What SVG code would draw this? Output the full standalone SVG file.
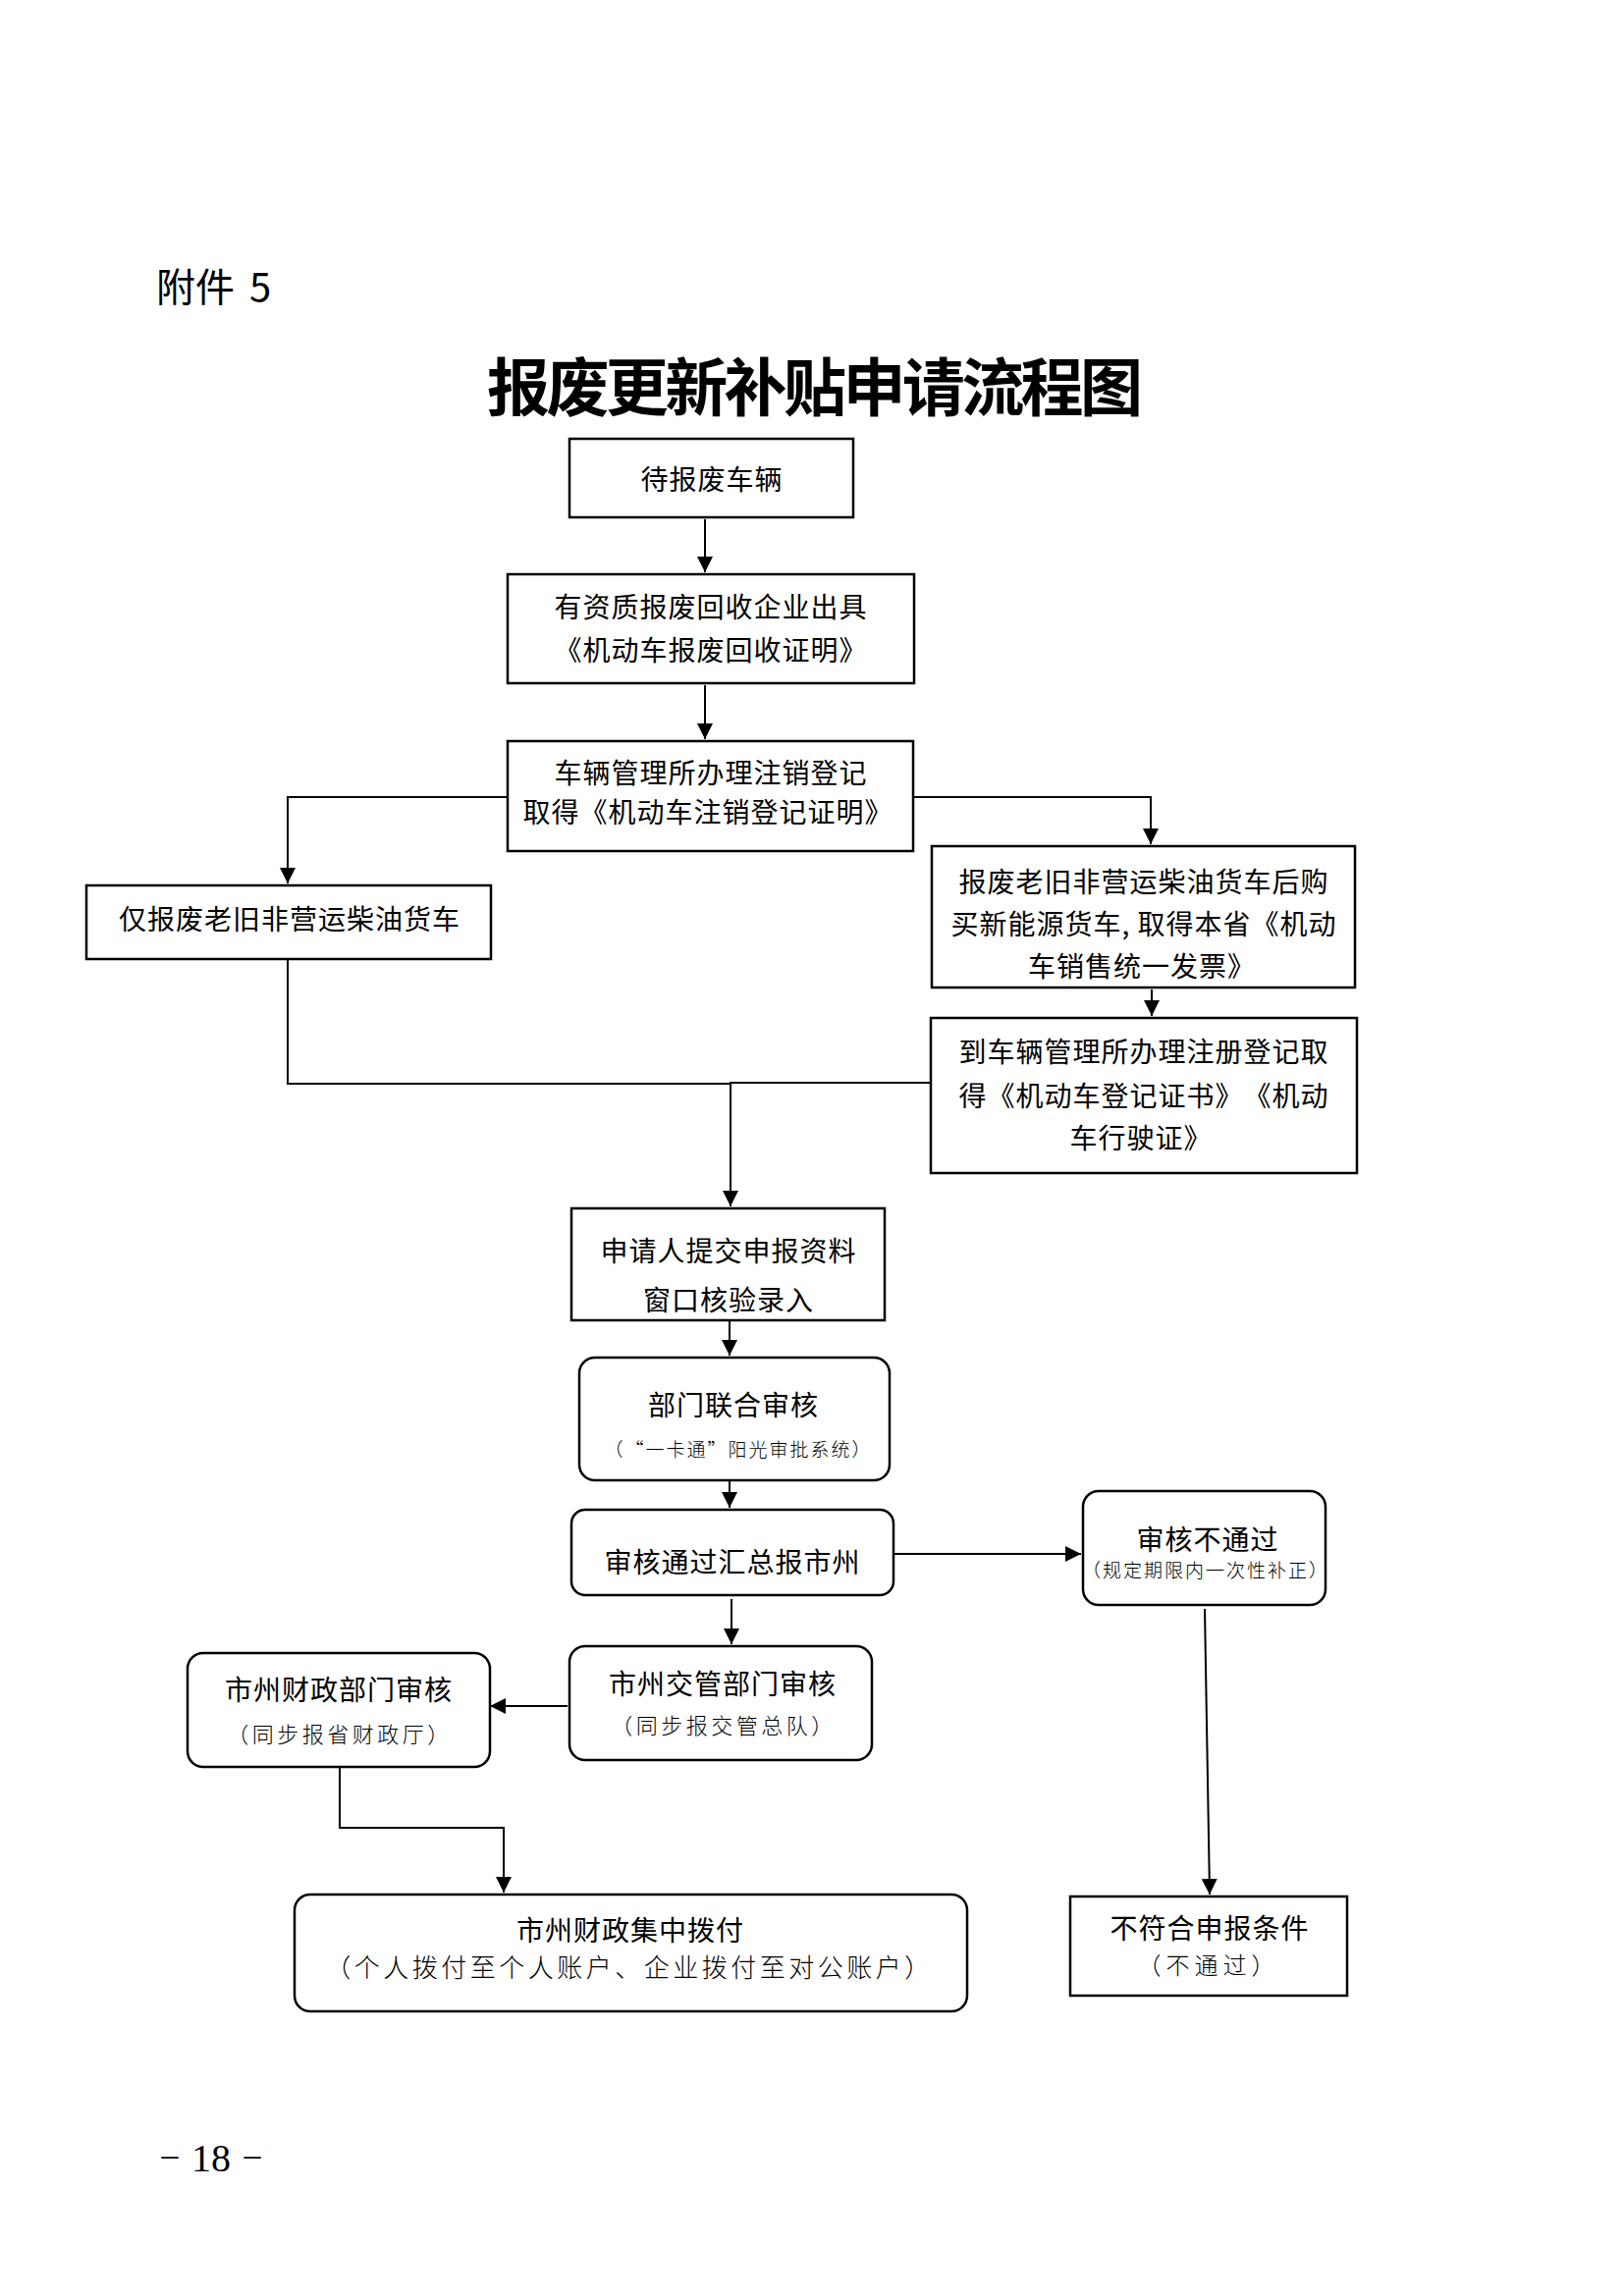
<svg xmlns="http://www.w3.org/2000/svg" width="1654" height="2339" viewBox="0 0 1654 2339">
<style>
  .bg { fill: #ffffff; }
  .box { fill: #ffffff; stroke: #000000; stroke-width: 2.5; }
  .con { fill: none; stroke: #000000; stroke-width: 2; marker-end: url(#arr); }
  .con0 { fill: none; stroke: #000000; stroke-width: 2; }
  .t { font-family: "Noto Sans CJK SC", "Liberation Sans", sans-serif; font-size: 28px; fill: #000000; text-anchor: middle; dominant-baseline: central; letter-spacing: 1px; text-spacing-trim: space-all; }
  .s { font-family: "Noto Sans CJK SC", "Liberation Sans", sans-serif; font-weight: 300; fill: #000000; text-anchor: middle; dominant-baseline: central; text-spacing-trim: space-all; }
</style>
<defs>
  <marker id="arr" viewBox="0 0 16 16" refX="16" refY="8" markerWidth="16" markerHeight="16" markerUnits="userSpaceOnUse" orient="auto">
    <path d="M0,0 L16,8 L0,16 z" fill="#000000"/>
  </marker>
</defs>
<rect class="bg" x="0" y="0" width="1654" height="2339"/>

<g id="header">
  <text x="159" y="290" font-family="Noto Sans CJK SC, Liberation Sans, sans-serif" font-size="40" dominant-baseline="central" word-spacing="6">附件 5</text>
  <text x="496" y="390" font-family="Noto Sans CJK SC, Liberation Sans, sans-serif" font-size="64" font-weight="bold" dominant-baseline="central" textLength="668" lengthAdjust="spacing">报废更新补贴申请流程图</text>
</g>

<g id="connectors">
  <path class="con" d="M718,529 V583"/>
  <path class="con" d="M718,698 V753"/>
  <path class="con" d="M517,812 H293 V900"/>
  <path class="con" d="M930,812 H1172 V860"/>
  <path class="con" d="M1173,1008 V1035"/>
  <path class="con0" d="M293,977 V1104 H744"/>
  <path class="con" d="M948,1103 H744 V1229"/>
  <path class="con" d="M743,1346 V1381"/>
  <path class="con" d="M743,1509 V1536"/>
  <path class="con" d="M745,1629 V1675"/>
  <path class="con" d="M911,1583 H1101"/>
  <path class="con" d="M578,1738 H499"/>
  <path class="con" d="M346,1801 V1862 H513 V1928"/>
  <path class="con" d="M1227,1639 L1232,1930"/>
</g>

<g id="n1">
  <rect class="box" x="580" y="447" width="289" height="80"/>
  <text class="t" x="725" y="487">待报废车辆</text>
</g>

<g id="n2">
  <rect class="box" x="517" y="585" width="414" height="111"/>
  <text class="t" x="724" y="617">有资质报废回收企业出具</text>
  <text class="t" x="724" y="661">《机动车报废回收证明》</text>
</g>

<g id="n3">
  <rect class="box" x="517" y="755" width="413" height="112"/>
  <text class="t" x="724" y="786">车辆管理所办理注销登记</text>
  <text class="t" x="721" y="826">取得《机动车注销登记证明》</text>
</g>

<g id="n4">
  <rect class="box" x="88" y="902" width="412" height="75"/>
  <text class="t" x="295" y="935">仅报废老旧非营运柴油货车</text>
</g>

<g id="n5">
  <rect class="box" x="949" y="862" width="431" height="144"/>
  <text class="t" x="1165" y="897">报废老旧非营运柴油货车后购</text>
  <text class="t" x="1165" y="940">买新能源货车, 取得本省《机动</text>
  <text class="t" x="1163" y="983">车销售统一发票》</text>
</g>

<g id="n6">
  <rect class="box" x="948" y="1037" width="434" height="158"/>
  <text class="t" x="1165" y="1070">到车辆管理所办理注册登记取</text>
  <text class="t" x="1165" y="1115">得《机动车登记证书》《机动</text>
  <text class="t" x="1162" y="1158">车行驶证》</text>
</g>

<g id="n7">
  <rect class="box" x="582" y="1231" width="319" height="114"/>
  <text class="t" x="742" y="1273">申请人提交申报资料</text>
  <text class="t" x="742" y="1323">窗口核验录入</text>
</g>

<g id="n8">
  <rect class="box" x="590" y="1383" width="316" height="125" rx="16" ry="16"/>
  <text class="t" x="747" y="1430">部门联合审核</text>
  <text class="s" x="752" y="1475" font-size="19" letter-spacing="2">（“一卡通”阳光审批系统）</text>
</g>

<g id="n9">
  <rect class="box" x="582" y="1538" width="328" height="87" rx="14" ry="14"/>
  <text class="t" x="746" y="1590">审核通过汇总报市州</text>
</g>

<g id="n10">
  <rect class="box" x="1103" y="1519" width="247" height="116" rx="16" ry="16"/>
  <text class="t" x="1230" y="1567">审核不通过</text>
  <text class="s" x="1228" y="1598" font-size="19" letter-spacing="2">（规定期限内一次性补正）</text>
</g>

<g id="n11">
  <rect class="box" x="580" y="1677" width="308" height="116" rx="16" ry="16"/>
  <text class="t" x="736" y="1714">市州交管部门审核</text>
  <text class="s" x="737" y="1756" font-size="22" letter-spacing="3.5">（同步报交管总队）</text>
</g>

<g id="n12">
  <rect class="box" x="191" y="1684" width="308" height="116" rx="16" ry="16"/>
  <text class="t" x="345" y="1720">市州财政部门审核</text>
  <text class="s" x="346" y="1765" font-size="22" letter-spacing="3.5">（同步报省财政厅）</text>
</g>

<g id="n13">
  <rect class="box" x="300" y="1930" width="685" height="119" rx="16" ry="16"/>
  <text class="t" x="642" y="1965">市州财政集中拨付</text>
  <text class="s" x="641" y="2002" font-size="26" letter-spacing="3.5">（个人拨付至个人账户、企业拨付至对公账户）</text>
</g>

<g id="n14">
  <rect class="box" x="1090" y="1932" width="282" height="101"/>
  <text class="t" x="1232" y="1963">不符合申报条件</text>
  <text class="s" x="1231" y="2000" font-size="24" letter-spacing="5">（不通过）</text>
</g>

<g id="footer">
  <text x="215" y="2212" font-family="Liberation Serif, Noto Sans CJK SC, serif" font-size="40" text-anchor="middle"><tspan font-size="24" dy="-5">－</tspan><tspan dy="5"> 18 </tspan><tspan font-size="24" dy="-5">－</tspan></text>
</g>
</svg>
